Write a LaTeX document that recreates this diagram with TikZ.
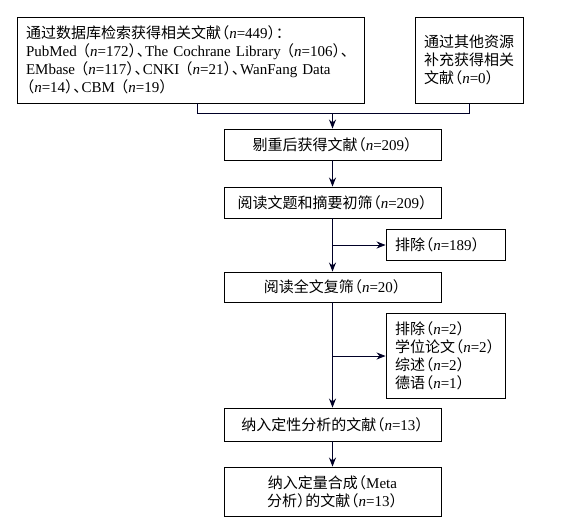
\documentclass[tikz,border=0pt]{standalone}
\usepackage{fontspec}
\setmainfont{Liberation Serif}
\newfontfamily\cjk{Noto Sans CJK SC}
\usetikzlibrary{arrows.meta}
\newcommand\zh[1]{{\cjk #1}}
\newcommand\nn{\textit{n}}
\newcommand\lp{\kern-0.45em{\cjk （}}
\newcommand\rp{{\cjk ）}\kern-0.45em}
\newcommand\dun{{\cjk 、}\kern-0.45em}
\begin{document}
\begin{tikzpicture}[x=1pt,y=-1pt,
  box/.style={draw=black, line width=0.9pt, inner sep=0pt, font=\fontsize{15}{18}\selectfont},
  conn/.style={line width=0.9pt, draw=black!85!blue},
  arr/.style={conn, -{Stealth[length=9pt,width=7pt]}}]
\useasboundingbox (0,0) rectangle (588,520);
\fill[white] (0,0) rectangle (588,520);
\node[box, minimum width=347pt, minimum height=86pt, text width=329pt, align=left] (db) at (190.5,60)
 {\mbox{\zh{通过数据库检索获得相关文献}\lp\nn=449\rp\zh{：}}\\
  \mbox{PubMed\ \lp\nn=172\rp\dun The Cochrane Library\ \lp\nn=106\rp\dun}\\
  \mbox{EMbase\ \lp\nn=117\rp\dun CNKI\ \lp\nn=21\rp\dun WanFang Data}\\
  \mbox{\lp\nn=14\rp\dun CBM\ \lp\nn=19\rp}};
\node[box, minimum width=108pt, minimum height=86pt, text width=90pt, align=left] (src) at (469,60)
 {\zh{通过其他资源}\\\zh{补充获得相关}\\\zh{文献}\lp\nn=0\rp};
\node[box, minimum width=217pt, minimum height=31pt] (dedup) at (332.5,144.5)
 {\zh{剔重后获得文献}\lp\nn=209\rp};
\node[box, minimum width=217pt, minimum height=31pt] (title) at (332.5,202.5)
 {\zh{阅读文题和摘要初筛}\lp\nn=209\rp};
\node[box, minimum width=119pt, minimum height=31pt, text width=101pt, align=left] (ex1) at (445.5,244.5)
 {\zh{排除}\lp\nn=189\rp};
\node[box, minimum width=217pt, minimum height=30pt] (full) at (332.5,287)
 {\zh{阅读全文复筛}\lp\nn=20\rp};
\node[box, minimum width=119pt, minimum height=85pt, text width=101pt, align=left] (ex2) at (445.5,355.5)
 {\zh{排除}\lp\nn=2\rp\\\zh{学位论文}\lp\nn=2\rp\\\zh{综述}\lp\nn=2\rp\\\zh{德语}\lp\nn=1\rp};
\node[box, minimum width=217pt, minimum height=33pt] (qual) at (332.5,424.5)
 {\zh{纳入定性分析的文献}\lp\nn=13\rp};
\node[box, minimum width=217pt, minimum height=49pt, align=center] (meta) at (332.5,491.5)
 {\zh{纳入定量合成}\lp Meta\\\zh{分析}\rp\zh{的文献}\lp\nn=13\rp};
\coordinate (d1) at (197,113);
\coordinate (j) at (332.5,113);
\coordinate (d2) at (469,113);
\coordinate (b1) at (332.5,245);
\coordinate (b2) at (332.5,356);
\draw[conn] (db.south -| d1) -- (d1) -- (d2) -- (src.south);
\draw[arr] (j) -- (dedup.north);
\draw[arr] (dedup) -- (title);
\draw[arr] (title) -- (full);
\draw[arr] (b1) -- (b1 -| ex1.west);
\draw[arr] (full) -- (qual);
\draw[arr] (b2) -- (b2 -| ex2.west);
\draw[arr] (qual) -- (meta);
\end{tikzpicture}
\end{document}
